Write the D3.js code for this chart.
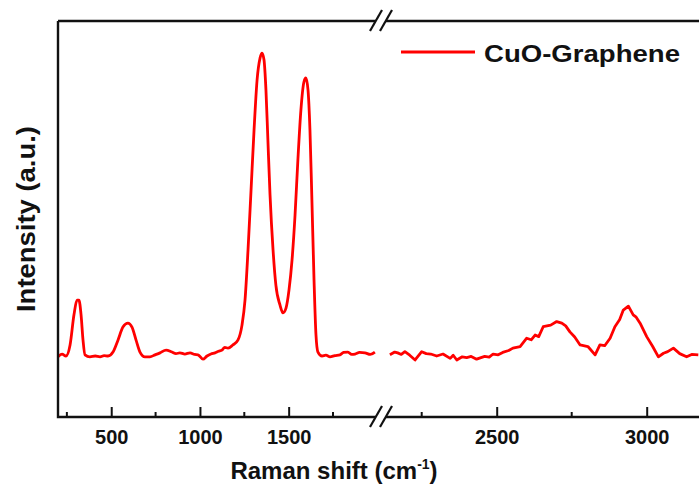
<!DOCTYPE html>
<html>
<head>
<meta charset="utf-8">
<script src="https://cdn.jsdelivr.net/npm/d3@7"></script>
<style>
  body { margin: 0; background: #fff; }
  text { font-family: "Liberation Sans", Arial, sans-serif; font-weight: bold; fill: #111; }
</style>
</head>
<body>
<svg id="chart" width="699" height="493"></svg>
<script>
// Raman spectrum (intensity in arbitrary units, 0-100)
const leftShift = [200, 223, 245, 268, 290, 307, 318, 330, 341, 352, 380, 410, 437, 460, 482, 510, 538, 566, 594, 617, 640, 662, 690, 718, 747, 775, 809, 842, 865, 887, 915, 944, 970, 989, 1017, 1040, 1062, 1085, 1105, 1124, 1140, 1158, 1186, 1214, 1237, 1254, 1271, 1288, 1305, 1322, 1339, 1350, 1361, 1372, 1383, 1395, 1412, 1428, 1451, 1468, 1485, 1502, 1519, 1536, 1552, 1569, 1586, 1597, 1609, 1620, 1631, 1643, 1654, 1665, 1688, 1710, 1733, 1760, 1789, 1810, 1834, 1855, 1874, 1900, 1930, 1960, 1986];
const leftIntensity = [15.2, 15.9, 15.4, 18.2, 25.8, 29.5, 29.5, 25.8, 19.4, 15.7, 15.2, 15.4, 15.2, 15.5, 15.4, 16.4, 19.4, 22.7, 23.7, 22.7, 19.4, 16.4, 15.2, 15.2, 15.7, 16.2, 16.9, 16.4, 16.0, 16.2, 15.9, 16.2, 15.8, 15.7, 14.6, 15.4, 15.9, 16.2, 16.6, 16.9, 17.6, 17.4, 18.2, 19.4, 23.2, 29.5, 42.2, 57.3, 72.5, 85.1, 90.7, 91.9, 90.2, 82.6, 69.9, 56.1, 42.2, 33.3, 28.3, 26.3, 27.5, 32.1, 39.6, 51.0, 64.9, 77.5, 84.6, 85.6, 82.6, 72.5, 54.8, 34.6, 20.7, 16.4, 15.4, 15.6, 15.2, 15.5, 15.7, 16.3, 16.4, 15.8, 15.9, 16.3, 16.2, 15.8, 16.4];

const rightShift = [2144, 2160, 2170, 2182, 2194, 2210, 2228, 2250, 2265, 2280, 2300, 2321, 2345, 2355, 2367, 2385, 2400, 2415, 2433, 2460, 2475, 2488, 2505, 2520, 2540, 2554, 2578, 2600, 2615, 2628, 2640, 2655, 2680, 2700, 2717, 2730, 2744, 2760, 2778, 2804, 2828, 2844, 2860, 2878, 2894, 2910, 2922, 2939, 2955, 2965, 2978, 3000, 3020, 3039, 3056, 3070, 3089, 3110, 3133, 3150, 3172];
const rightIntensity = [15.7, 16.4, 16.2, 15.8, 16.5, 15.6, 14.4, 16.5, 16.0, 15.9, 15.4, 15.9, 14.8, 15.6, 14.4, 15.2, 15.0, 15.3, 14.6, 15.3, 15.1, 15.9, 15.7, 16.3, 16.8, 17.4, 17.8, 19.9, 19.5, 20.7, 20.3, 22.8, 23.2, 24.1, 23.7, 23.0, 21.5, 20.2, 18.2, 17.8, 15.7, 18.2, 18.0, 19.9, 22.8, 24.6, 27.0, 28.0, 25.8, 25.2, 23.7, 20.3, 17.8, 15.2, 16.1, 16.5, 17.4, 16.0, 15.2, 15.8, 15.7];

const leftTicks = [500, 1000, 1500];
const leftMinor = [250, 750, 1250, 1750];
const rightTicks = [2500, 3000];
const rightMinor = [2250, 2750];

const legendLabel = "CuO-Graphene";

const svg = d3.select("#chart");
const plotTop = 21, plotBottom = 417, plotLeft = 58;

const xLeft = d3.scaleLinear().domain([200, 1990]).range([plotLeft, 375.6]);
const xRight = d3.scaleLinear().domain([2140, 3200]).range([388.7, 706.7]);
const y = d3.scaleLinear().domain([0, 100]).range([plotBottom, plotTop]);

// clip areas for both halves
const defs = svg.append("defs");
defs.append("clipPath").attr("id", "clipL")
  .append("rect").attr("x", plotLeft).attr("y", plotTop).attr("width", 318).attr("height", plotBottom - plotTop);
defs.append("clipPath").attr("id", "clipR")
  .append("rect").attr("x", 387).attr("y", plotTop).attr("width", 320).attr("height", plotBottom - plotTop);

// spectrum lines
const lineL = d3.line().x(d => xLeft(d[0])).y(d => y(d[1])).curve(d3.curveMonotoneX);
const lineR = d3.line().x(d => xRight(d[0])).y(d => y(d[1])).curve(d3.curveLinear);

svg.append("path")
  .datum(d3.zip(leftShift, leftIntensity))
  .attr("clip-path", "url(#clipL)")
  .attr("d", lineL)
  .attr("fill", "none")
  .attr("stroke", "#ff0000")
  .attr("stroke-width", 2.8)
  .attr("stroke-linejoin", "round");

svg.append("path")
  .datum(d3.zip(rightShift, rightIntensity))
  .attr("clip-path", "url(#clipR)")
  .attr("d", lineR)
  .attr("fill", "none")
  .attr("stroke", "#ff0000")
  .attr("stroke-width", 2.8)
  .attr("stroke-linejoin", "round");

// x axes (ticks point inward)
function drawAxis(scale, major, minor) {
  const g = svg.append("g").attr("transform", `translate(0,${plotBottom})`);
  g.call(d3.axisBottom(scale).tickValues(major).tickSize(-10).tickPadding(13).tickFormat(d3.format("d")));
  g.select(".domain").remove();
  g.selectAll(".tick line").attr("stroke", "#111").attr("stroke-width", 2);
  g.selectAll(".tick text").style("font-size", "20px").attr("fill", "#111");
  g.selectAll(".minor")
    .data(minor)
    .enter().append("line")
    .attr("class", "minor")
    .attr("x1", d => scale(d)).attr("x2", d => scale(d))
    .attr("y1", 0).attr("y2", -5)
    .attr("stroke", "#111").attr("stroke-width", 2);
}
drawAxis(xLeft, leftTicks, leftMinor);
drawAxis(xRight, rightTicks, rightMinor);

// frame: left, bottom and top lines with the break
const frame = svg.append("g").attr("stroke", "#111").attr("stroke-width", 2.4).attr("fill", "none");
frame.append("path").attr("d", `M${plotLeft},${plotTop} V${plotBottom} H376`);
frame.append("path").attr("d", `M386,${plotBottom} H699`);
frame.append("path").attr("d", `M${plotLeft},${plotTop} H376`);
frame.append("path").attr("d", `M386,${plotTop} H699`);

// break marks
[plotBottom, plotTop].forEach(yy => {
  [0, 10].forEach(dx => {
    frame.append("line")
      .attr("x1", 370 + dx).attr("y1", yy + 10)
      .attr("x2", 382 + dx).attr("y2", yy - 11)
      .attr("stroke-width", 2.2);
  });
});

// legend
svg.append("line")
  .attr("x1", 401).attr("x2", 475).attr("y1", 52).attr("y2", 52)
  .attr("stroke", "#ff0000").attr("stroke-width", 2.8);
svg.append("text")
  .attr("x", 484).attr("y", 61.5)
  .style("font-size", "23px")
  .attr("textLength", 196).attr("lengthAdjust", "spacingAndGlyphs")
  .text(legendLabel);

// axis titles
const xt = svg.append("text")
  .attr("x", 334).attr("y", 479)
  .attr("text-anchor", "middle")
  .style("font-size", "24px");
xt.append("tspan").text("Raman shift (cm");
xt.append("tspan").attr("dy", -10).style("font-size", "14px").text("-1");
xt.append("tspan").attr("dy", 10).text(")");

svg.append("text")
  .attr("transform", "translate(35,219) rotate(-90)")
  .attr("text-anchor", "middle")
  .style("font-size", "25px")
  .attr("textLength", 186).attr("lengthAdjust", "spacingAndGlyphs")
  .text("Intensity (a.u.)");
</script>
</body>
</html>
